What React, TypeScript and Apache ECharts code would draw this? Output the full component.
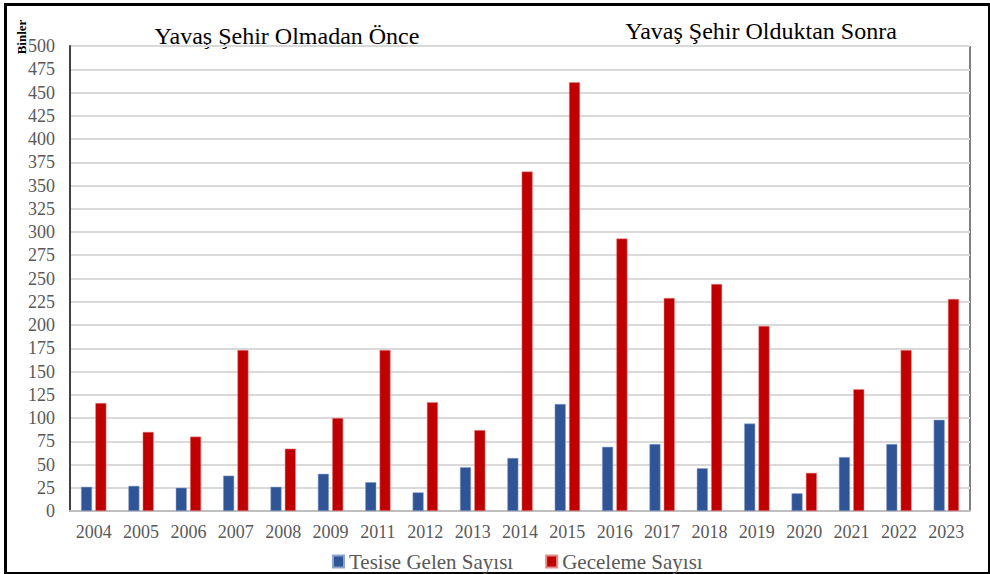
import React, { useEffect, useRef } from "react";
import * as echarts from "echarts";

const years = ["2004","2005","2006","2007","2008","2009","2011","2012","2013","2014","2015","2016","2017","2018","2019","2020","2021","2022","2023"];
const arrivals = [26, 27, 25, 38, 26, 40, 31, 20, 47, 57, 115, 69, 72, 46, 94, 19, 58, 72, 98];
const overnights = [116, 85, 80, 173, 67, 100, 173, 117, 87, 365, 461, 293, 229, 244, 199, 41, 131, 173, 228];
const seriesNames = ["Tesise Gelen Sayısı", "Geceleme Sayısı"];
const titleBefore = "Yavaş Şehir Olmadan Önce";
const titleAfter = "Yavaş Şehir Olduktan Sonra";
const unitLabel = "Binler";

const FONT = "Liberation Serif";

export default function App() {
  const ref = useRef<HTMLDivElement>(null);
  useEffect(() => {
    if (!ref.current) return;
    const chart = echarts.init(ref.current, null, { renderer: "svg" });
    chart.setOption({
      animation: false,
      backgroundColor: "#fff",
      textStyle: { fontFamily: FONT },
      grid: {
        left: 70, right: 20, top: 46, bottom: 63,
        show: true, borderColor: "#000", borderWidth: 1, backgroundColor: "transparent",
      },
      legend: {
        top: 546, left: 327,
        itemWidth: 11, itemHeight: 12, itemGap: 32,
        icon: "rect",
        textStyle: { fontFamily: FONT, fontSize: 21, color: "#595959" },
        data: seriesNames,
      },
      xAxis: {
        type: "category",
        data: years,
        axisLine: { show: true, lineStyle: { color: "#bfbfbf", width: 2 } },
        axisTick: { show: false },
        axisLabel: { fontFamily: FONT, fontSize: 18, color: "#595959", margin: 12, interval: 0 },
      },
      yAxis: {
        type: "value",
        min: 0, max: 500, interval: 25,
        axisLine: { show: true, lineStyle: { color: "#404040", width: 2 } },
        axisTick: { show: false },
        splitLine: { lineStyle: { color: "#d9d9d9", width: 2 } },
        axisLabel: { fontFamily: FONT, fontSize: 18, color: "#595959", margin: 15 },
      },
      series: [
        {
          name: seriesNames[0], type: "bar", data: arrivals,
          barWidth: 11, barGap: "30%",
          itemStyle: { color: "#2F5597", borderColor: "#8ea3cc", borderWidth: 0.5 },
        },
        {
          name: seriesNames[1], type: "bar", data: overnights,
          barWidth: 11, barGap: "30%",
          itemStyle: { color: "#C00000", borderColor: "#e88a8a", borderWidth: 0.5 },
        },
      ],
      graphic: [
        {
          type: "rect", left: 3, top: 2, silent: true,
          shape: { x: 0, y: 0, width: 984, height: 569 },
          style: { fill: "none", stroke: "#000", lineWidth: 3 },
        },
        {
          type: "text", x: 287, y: 36,
          style: { text: titleBefore, fontFamily: FONT, fontSize: 24, fill: "#000", textAlign: "center", textVerticalAlign: "middle" },
        },
        {
          type: "text", x: 761, y: 31,
          style: { text: titleAfter, fontFamily: FONT, fontSize: 24, fill: "#000", textAlign: "center", textVerticalAlign: "middle" },
        },
        {
          type: "text", x: 21, y: 37, rotation: Math.PI / 2,
          style: { text: unitLabel, fontFamily: FONT, fontSize: 13, fontWeight: "bold", fill: "#000", textAlign: "center", textVerticalAlign: "middle" },
        },
      ],
    });
    return () => chart.dispose();
  }, []);
  return <div ref={ref} style={{ position: "fixed", left: 0, top: 0, width: 990, height: 574 }} />;
}
